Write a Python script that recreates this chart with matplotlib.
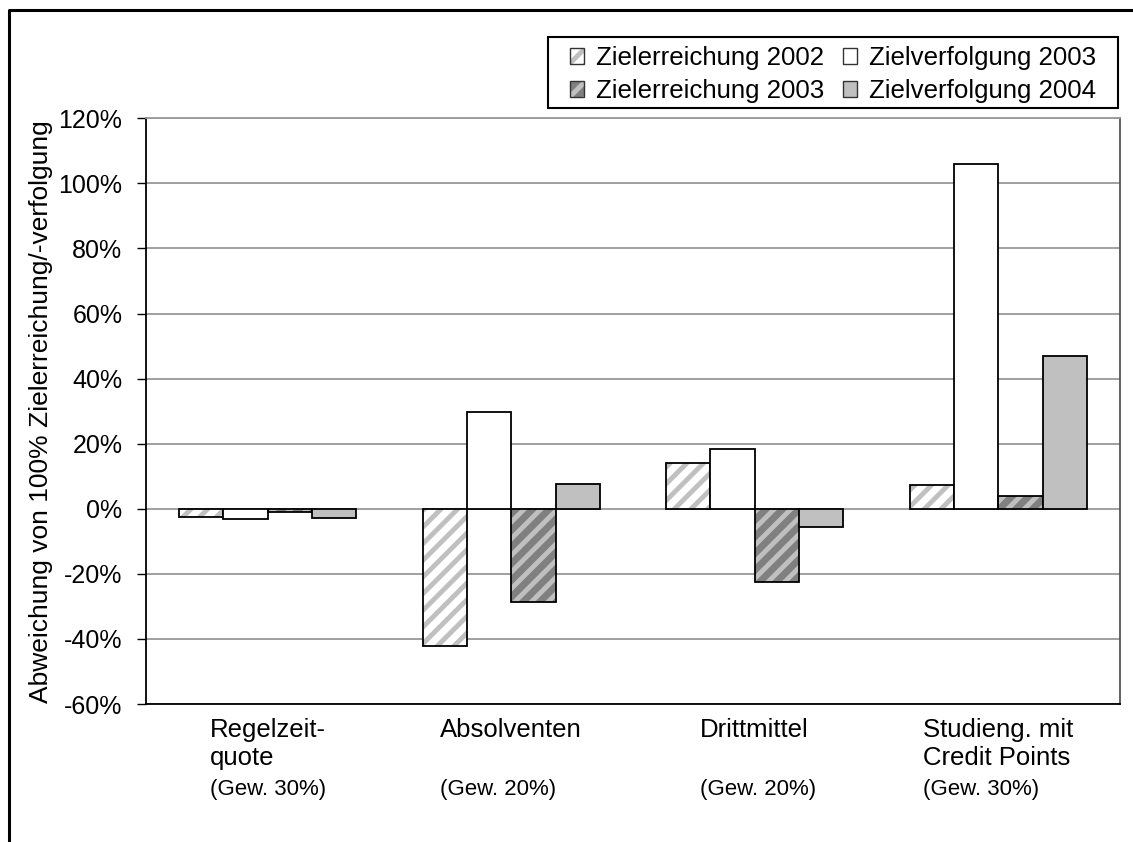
import matplotlib
matplotlib.use("Agg")
import matplotlib.pyplot as plt
from matplotlib.patches import Patch, Rectangle
from matplotlib.lines import Line2D
from matplotlib.ticker import FuncFormatter
import numpy as np

plt.rcParams["font.family"] = ["Liberation Sans", "DejaVu Sans"]
plt.rcParams["hatch.linewidth"] = 3.5

categories = [
    "Regelzeit-\nquote",
    "Absolventen",
    "Drittmittel",
    "Studieng. mit\nCredit Points",
]
weights = ["(Gew. 30%)", "(Gew. 20%)", "(Gew. 20%)", "(Gew. 30%)"]
series_names = ["Zielerreichung 2002", "Zielverfolgung 2003",
                "Zielerreichung 2003", "Zielverfolgung 2004"]
ze_2002 = [-2.4, -42.1, 14.1, 7.3]
zv_2003 = [-3.0, 29.8, 18.4, 106.0]
ze_2003 = [-0.9, -28.7, -22.4, 4.0]
zv_2004 = [-2.8, 7.7, -5.7, 47.0]
y_ticks = [-60, -40, -20, 0, 20, 40, 60, 80, 100, 120]

series_values = [ze_2002, zv_2003, ze_2003, zv_2004]
face_colors = ["white", "white", "#808080", "#c0c0c0"]
hatches = ["//", None, "//", None]
hatch_color = "#c0c0c0"

W, H = 1133, 842
fig = plt.figure(figsize=(W / 100, H / 100), dpi=100)
ax = fig.add_axes([146 / W, 1 - 704 / H, (1120 - 146) / W, (704 - 118.3) / H])

x = np.arange(len(categories))
bw = 1 / 5.5
handles = []
for j, (vals, fc, hat) in enumerate(zip(series_values, face_colors, hatches)):
    pos = x + (j - 1.5) * bw
    if hat:
        ax.bar(pos, vals, bw, color=fc, edgecolor=hatch_color, hatch=hat,
               linewidth=0, zorder=3)
    ax.bar(pos, vals, bw, color=fc if not hat else "none", edgecolor="black",
           linewidth=1.3, zorder=4)
    if hat:
        h = (Patch(facecolor=fc, edgecolor=hatch_color, hatch=hat, linewidth=0),
             Patch(facecolor="none", edgecolor="#333333", linewidth=1.0))
    else:
        h = Patch(facecolor=fc, edgecolor="#333333", linewidth=1.0)
    handles.append(h)

ax.set_xlim(-0.5, len(categories) - 0.5)
ax.set_ylim(y_ticks[0], y_ticks[-1])
ax.set_yticks(y_ticks)
ax.yaxis.set_major_formatter(FuncFormatter(lambda v, _: f"{v:.0f}%"))
ax.grid(axis="y", color="#999999", linewidth=1.3, zorder=0)
ax.set_axisbelow(True)

ax.set_xticks(x)
ax.set_xticklabels(categories, fontsize=18.5, linespacing=1.23,
                   multialignment="left")
ax.tick_params(axis="x", length=0, pad=10)
ax.tick_params(axis="y", direction="out", length=6.5, width=1, color="black",
               labelsize=18, pad=10.5)

ax.spines["left"].set_color("black")
ax.spines["left"].set_linewidth(1.3)
ax.spines["bottom"].set_color("black")
ax.spines["bottom"].set_linewidth(1.3)
ax.spines["right"].set_color("#555555")
ax.spines["right"].set_linewidth(1.3)
ax.spines["top"].set_color("#999999")
ax.spines["top"].set_linewidth(1.3)

ax.set_ylabel("Abweichung von 100% Zielerreichung/-verfolgung", fontsize=19)
ax.yaxis.set_label_coords(-0.095, 0.5)

# weight notes, left-aligned under each category label
fig.canvas.draw()
renderer = fig.canvas.get_renderer()
for lbl, wtxt in zip(ax.get_xticklabels(), weights):
    x0 = lbl.get_window_extent(renderer).x0
    fig.text(x0 / W, 1 - 795 / H, wtxt, fontsize=16, ha="left", va="baseline")

# legend box and its entries
lx0, ly0, lx1, ly1 = 548, 37, 1118, 108
fig.add_artist(Rectangle((lx0 / W, 1 - ly1 / H), (lx1 - lx0) / W, (ly1 - ly0) / H,
                         transform=fig.transFigure, facecolor="white",
                         edgecolor="black", linewidth=1.5, zorder=5))
order = [0, 2, 1, 3]
leg = fig.legend([handles[i] for i in order], [series_names[i] for i in order],
                 ncol=2, loc="center",
                 bbox_to_anchor=((lx0 + lx1) / 2 / W, 1 - (ly0 + ly1 + 4) / 2 / H),
                 bbox_transform=fig.transFigure, borderaxespad=0,
                 fontsize=18.6, frameon=False,
                 handlelength=0.55, handleheight=0.55, handletextpad=0.45,
                 columnspacing=0.75, labelspacing=0.35, borderpad=0.2)
leg.set_zorder(6)

# outer chart frame (left and top edges)
fig.add_artist(Line2D([9 / W, 9 / W, 1.0], [0.0, 1 - 10 / H, 1 - 10 / H],
                      transform=fig.transFigure, color="black", linewidth=2.2))

fig.savefig("out.png", dpi=100)
